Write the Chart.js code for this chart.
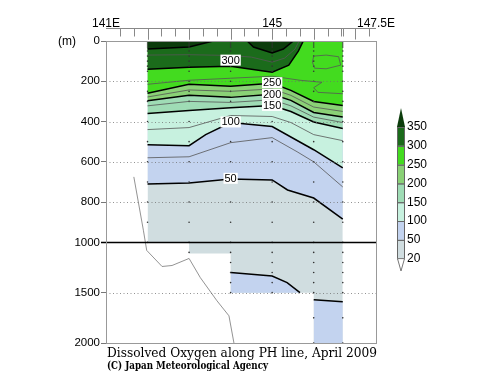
<!DOCTYPE html>
<html>
<head>
<meta charset="utf-8">
<script src="https://cdn.jsdelivr.net/npm/chart.js@4.4.1/dist/chart.umd.min.js"></script>
<style>
  html, body { margin: 0; padding: 0; background: #fff; }
  #wrap { width: 500px; height: 387px; position: relative; }
</style>
</head>
<body>
<div id="wrap"><canvas id="doChart"></canvas></div>
<script>
// dissolved oxygen section, PH line, April 2009
// contours are [longitude, depth m]

const stations = [142, 143, 144, 145, 146, 146.7];
const levels = [20, 50, 100, 150, 200, 250, 300, 350];
const bandColors = ['#d0dde0', '#c3d3ef', '#c7f1df', '#9fdcb5', '#8ad176', '#43db1f', '#1b6b1b', '#0c3c0c'];

const c350 = [[142, 40], [143, 30], [143.58, 0], [144.4, 0], [144.55, 30], [145, 60], [145.27, 40], [145.51, 0], [146.7, 0]];
const c325 = [[142, 70], [143, 68], [144, 72], [144.5, 80], [145, 105], [145.3, 85], [145.55, 40], [145.65, 0]];
const c300 = [[142, 140], [143, 130], [144, 125], [145, 155], [145.4, 120], [145.63, 50], [145.75, 0], [146.7, 0]];
const c275 = [[142, 215], [143, 195], [144, 185], [145, 175], [145.67, 195], [146.2, 205], [146.0, 232], [146.1, 255], [146.7, 262]];
const c275loop = [[146.0, 75], [146.3, 70], [146.6, 78], [146.65, 120], [146.3, 138], [146.02, 135], [145.97, 105], [146.0, 75]];
const c250 = [[142, 260], [143, 215], [144, 225], [145, 210], [145.45, 245], [146, 300], [146.7, 320]];
const c225 = [[142, 278], [143, 243], [144, 250], [145, 238], [145.45, 270], [146, 328], [146.7, 350]];
const c200 = [[142, 297], [143, 270], [144, 280], [145, 265], [145.45, 295], [146, 355], [146.7, 378]];
const c175 = [[142, 322], [143, 300], [144, 305], [145, 292], [145.45, 322], [146, 378], [146.7, 405]];
const c150 = [[142, 360], [143, 345], [144, 332], [145, 320], [145.45, 350], [146, 402], [146.7, 435]];
const c125 = [[142, 440], [143, 430], [144, 370], [145, 375], [145.45, 405], [146, 465], [146.7, 495]];
const c100 = [[142, 515], [143, 520], [143.4, 465], [144, 405], [145, 425], [146, 540], [146.7, 630]];
const c75 = [[142, 580], [143, 575], [144, 505], [145, 480], [145.6, 550], [146, 600], [146.7, 725]];
const c50 = [[142, 710], [143, 705], [144, 685], [145, 690], [145.37, 740], [146, 780], [146.7, 885]];
const c50deepA = [[144, 1300], [145, 1335], [145.36, 1400], [145.67, 1500]];
const c50deepB = [[146, 1570], [146.7, 1590]];
const dataBottom = [[142, 1000], [143, 1000], [143, 1110], [144, 1110], [144, 1500], [146, 1500], [146, 2000], [146.7, 2000]];
const greyLine = [[141.67, 675], [141.9, 940], [141.98, 1080], [142.35, 1240], [142.59, 1230], [143.0, 1160], [143.27, 1350], [143.67, 1580], [143.96, 1730], [144.08, 2000]];

const sampleDepths = [0, 10, 20, 30, 50, 75, 100, 125, 150, 200, 250, 300, 400, 500, 600, 700, 800, 900, 1000, 1100, 1200, 1300, 1400, 1500, 1750, 2000];
const stationBottoms = [1000, 1100, 1500, 1500, 2000, 2000];

const yTickDepths = [0, 200, 400, 600, 800, 1000, 1500, 2000];
const gridDepths = [200, 400, 600, 800, 1500];
const topLabels = ['141E', '145', '147.5E'];
const topLabelLons = [141, 145, 147.5];

const labelTexts = ['300', '250', '200', '150', '100', '50'];
const labelPos = [[144, 95], [145, 207], [145, 265], [145, 320], [144, 402], [144, 682]];

// depth below 1000 m is drawn at half scale
function dz(d) { return d <= 1000 ? d : 1000 + (d - 1000) / 2; }
function undz(v) { return v <= 1000 ? v : 1000 + (v - 1000) * 2; }
function pts(arr) { return arr.map(p => ({ x: p[0], y: dz(p[1]) })); }

const hideSurface = {
  borderColor: c => (c.p0.parsed.y === 0 && c.p1.parsed.y === 0) ? 'rgba(0,0,0,0)' : undefined
};

const datasets = [];

// painter's order: everything in the section gets the lowest band, then each level fills up to the surface
const fillLines = [dataBottom, c50, c100, c150, c200, c250, c300, c350];
fillLines.forEach((arr, i) => {
  datasets.push({
    data: pts(arr),
    fill: { value: 0 },
    backgroundColor: bandColors[i],
    borderColor: '#000',
    borderWidth: i === 0 ? 0 : 1.5,
    pointRadius: 0,
    segment: hideSurface,
    order: 50 - i
  });
});

// deep water where oxygen rises back above 50
datasets.push({ data: pts(c50deepA), fill: { value: dz(1500) }, backgroundColor: bandColors[1], borderColor: '#000', borderWidth: 1.5, pointRadius: 0, order: 45 });
datasets.push({ data: pts(c50deepB), fill: { value: dz(2000) }, backgroundColor: bandColors[1], borderColor: '#000', borderWidth: 1.5, pointRadius: 0, order: 45 });

// thin intermediate contours
[c75, c125, c175, c225, c275, c275loop, c325].forEach(arr => {
  datasets.push({ data: pts(arr), fill: false, borderColor: '#555', borderWidth: 0.8, pointRadius: 0, segment: hideSurface, order: 5 });
});

datasets.push({ data: pts(greyLine), fill: false, borderColor: '#777', borderWidth: 0.8, pointRadius: 0, order: 5 });

// sampling points
const samples = [];
stations.forEach((lon, i) => {
  sampleDepths.forEach(d => { if (d <= stationBottoms[i]) samples.push({ x: lon, y: dz(d) }); });
});
datasets.push({ data: samples, showLine: false, pointRadius: 0.8, pointBackgroundColor: '#333', pointBorderWidth: 0, order: 30 });

const decor = {
  id: 'decor',
  afterDatasetsDraw(chart) {
    const { ctx, chartArea: a, scales: { x, y } } = chart;
    ctx.save();
    ctx.strokeStyle = 'rgba(110,110,110,0.75)';
    ctx.lineWidth = 1;
    ctx.setLineDash([1, 2.5]);
    gridDepths.forEach(d => {
      const py = Math.round(y.getPixelForValue(dz(d))) + 0.5;
      ctx.beginPath(); ctx.moveTo(a.left, py); ctx.lineTo(a.right, py); ctx.stroke();
    });
    ctx.setLineDash([]);

    // 1000 m break
    const p1000 = Math.round(y.getPixelForValue(1000)) + 0.5;
    ctx.strokeStyle = '#000';
    ctx.lineWidth = 1.5;
    ctx.beginPath(); ctx.moveTo(a.left - 5, p1000); ctx.lineTo(a.right, p1000); ctx.stroke();

    // contour labels
    ctx.font = '11px "Liberation Sans", Arial, sans-serif';
    ctx.textAlign = 'center';
    ctx.textBaseline = 'middle';
    labelTexts.forEach((t, i) => {
      const px = x.getPixelForValue(labelPos[i][0]);
      const py = y.getPixelForValue(dz(labelPos[i][1]));
      const w = ctx.measureText(t).width + 2;
      ctx.fillStyle = '#fff';
      ctx.fillRect(px - w / 2, py - 5.5, w, 11);
      ctx.fillStyle = '#000';
      ctx.fillText(t, px, py + 0.5);
    });
    ctx.restore();
  },
  afterDraw(chart) {
    const { ctx, chartArea: a, scales: { x } } = chart;
    ctx.save();
    // frame
    ctx.strokeStyle = '#999';
    ctx.lineWidth = 1;
    ctx.strokeRect(a.left + 0.5, a.top + 0.5, a.right - a.left, a.bottom - a.top);

    // top longitude axis
    const ay = 28.5;
    ctx.strokeStyle = '#888';
    ctx.beginPath(); ctx.moveTo(x.getPixelForValue(141), ay); ctx.lineTo(x.getPixelForValue(147.5), ay); ctx.stroke();
    const tickLons = [];
    for (let k = 1; k <= 19; k++) tickLons.push(141 + k / 3);
    stations.forEach(s => tickLons.push(s));
    tickLons.forEach(v => {
      const px = Math.round(x.getPixelForValue(v)) + 0.5;
      const major = Math.abs(v - Math.round(v)) < 0.01;
      ctx.beginPath(); ctx.moveTo(px, ay); ctx.lineTo(px, ay + (major ? 11 : 8)); ctx.stroke();
    });
    ctx.fillStyle = '#000';
    ctx.font = '12px "Liberation Sans", Arial, sans-serif';
    ctx.textAlign = 'center';
    ctx.textBaseline = 'alphabetic';
    topLabels.forEach((t, i) => ctx.fillText(t, x.getPixelForValue(topLabelLons[i]), 27));

    // unit
    ctx.textBaseline = 'middle';
    ctx.fillText('(m)', 67, 42);

    // colour bar
    const bx = 397, bw = 8, btop = 127, step = 18.8;
    for (let i = 0; i < 7; i++) {
      const yy = btop + (6 - i) * step;
      ctx.fillStyle = bandColors[i];
      ctx.fillRect(bx, yy, bw, step);
      ctx.strokeStyle = '#666';
      ctx.strokeRect(bx + 0.5, yy + 0.5, bw - 1, step);
    }
    ctx.fillStyle = bandColors[7];
    ctx.beginPath(); ctx.moveTo(bx, btop); ctx.lineTo(bx + bw, btop); ctx.lineTo(bx + bw / 2, 108); ctx.closePath(); ctx.fill();
    const bb = btop + 7 * step;
    ctx.fillStyle = '#fff';
    ctx.beginPath(); ctx.moveTo(bx + 0.5, bb); ctx.lineTo(bx + bw - 0.5, bb); ctx.lineTo(bx + bw / 2, 271); ctx.closePath(); ctx.fill();
    ctx.strokeStyle = '#777'; ctx.stroke();
    ctx.fillStyle = '#000';
    ctx.textAlign = 'left';
    ctx.font = '12px "Liberation Sans", Arial, sans-serif';
    levels.forEach((lv, j) => ctx.fillText(String(lv), 407, btop + (7 - j) * step));

    // titles
    function fitText(t, font, x0, y0, width) {
      ctx.font = font;
      const w = ctx.measureText(t).width;
      ctx.save();
      ctx.translate(x0, y0);
      ctx.scale(width / w, 1);
      ctx.fillText(t, 0, 0);
      ctx.restore();
    }
    ctx.textBaseline = 'alphabetic';
    fitText('Dissolved Oxygen along PH line, April 2009', '13px "DejaVu Serif", serif', 107, 357, 270);
    fitText('(C) Japan Meteorological Agency', 'bold 10.5px "DejaVu Serif", serif', 107, 369, 161);
    ctx.restore();
  }
};

new Chart(document.getElementById('doChart'), {
  type: 'line',
  data: { datasets: datasets },
  options: {
    responsive: true,
    maintainAspectRatio: false,
    animation: false,
    layout: { padding: { left: 0, top: 41, right: 124, bottom: 44 } },
    plugins: {
      legend: { display: false },
      tooltip: { enabled: false },
      filler: { drawTime: 'beforeDatasetsDraw' }
    },
    scales: {
      x: { type: 'linear', min: 141, max: 147.5, display: false },
      y: {
        type: 'linear',
        min: 0,
        max: dz(2000),
        reverse: true,
        afterFit: s => { s.width = 106; },
        afterBuildTicks: s => { s.ticks = yTickDepths.map(d => ({ value: dz(d) })); },
        ticks: {
          autoSkip: false,
          padding: 1,
          color: '#000',
          font: { family: '"Liberation Sans", Arial, sans-serif', size: 11.5 },
          callback: v => String(undz(v))
        },
        grid: { drawOnChartArea: false, tickLength: 5, color: '#777' },
        border: { color: '#777' }
      }
    }
  },
  plugins: [decor]
});
</script>
</body>
</html>
